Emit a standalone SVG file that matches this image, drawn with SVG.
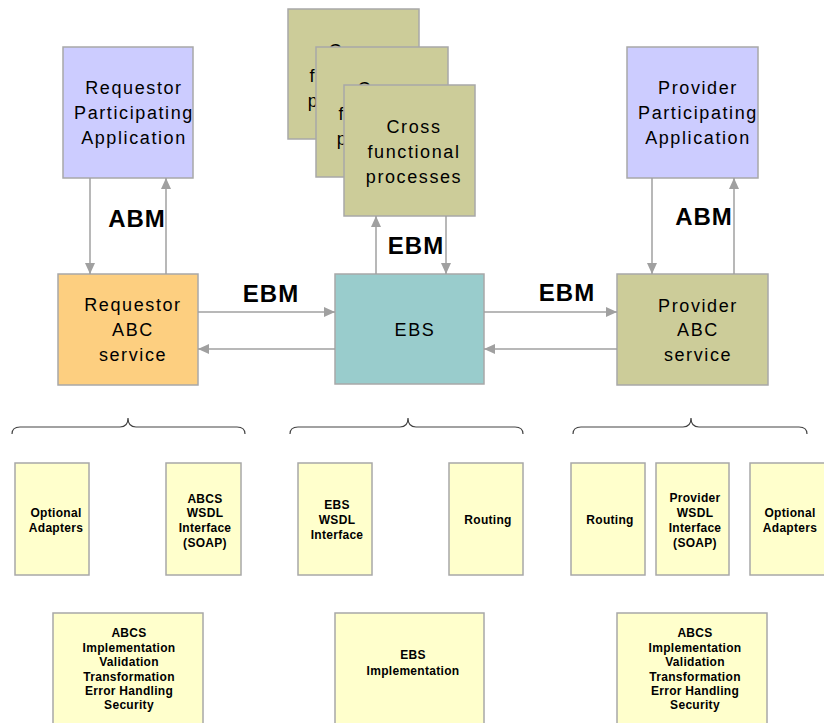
<svg xmlns="http://www.w3.org/2000/svg" width="824" height="723" viewBox="0 0 824 723">
<style>
.box{stroke:#A8A8A8;stroke-width:1.5}
.app{fill:#CCCCFF}
.req{fill:#FDCF80}
.ebs{fill:#99CCCC}
.olive{fill:#CCCC99}
.yel{fill:#FFFFCC}
.t{font-family:"Liberation Sans",Arial,sans-serif;font-size:18px;letter-spacing:1.6px;fill:#000;text-anchor:middle}
.lbl{font-family:"Liberation Sans",Arial,sans-serif;font-size:24px;font-weight:bold;letter-spacing:1px;fill:#000;text-anchor:middle}
.s{font-family:"Liberation Sans",Arial,sans-serif;font-size:12px;font-weight:bold;letter-spacing:0.3px;fill:#000;text-anchor:middle}
.c{stroke:#A0A0A0;stroke-width:1.5;fill:none;marker-end:url(#ah)}
.brace{stroke:#444;stroke-width:1.2;fill:none}
</style>
<defs>
<marker id="ah" markerUnits="userSpaceOnUse" markerWidth="12" markerHeight="12" refX="11" refY="5" orient="auto">
<path d="M0,0 L11,5 L0,10 z" fill="#A0A0A0"/>
</marker>
</defs>
<rect width="824" height="723" fill="#FFFFFF"/>

<g id="cross3">
<rect class="box olive" x="288" y="9" width="131" height="130"/>
<text class="t" x="356" y="57">Cross</text>
<text class="t" x="356" y="82">functional</text>
<text class="t" x="356" y="107">processes</text>
</g>
<g id="cross2">
<rect class="box olive" x="316" y="47" width="132" height="130"/>
<text class="t" x="385" y="95">Cross</text>
<text class="t" x="385" y="120">functional</text>
<text class="t" x="385" y="145">processes</text>
</g>
<g id="cross1">
<rect class="box olive" x="344" y="85" width="131" height="131"/>
<text class="t" x="414" y="133">Cross</text>
<text class="t" x="414" y="158">functional</text>
<text class="t" x="414" y="183">processes</text>
</g>

<g id="reqApp">
<rect class="box app" x="63" y="47" width="130" height="131"/>
<text class="t" x="134" y="94">Requestor</text>
<text class="t" x="134" y="119">Participating</text>
<text class="t" x="134" y="144">Application</text>
</g>
<g id="provApp">
<rect class="box app" x="627" y="47" width="131" height="131"/>
<text class="t" x="698" y="94">Provider</text>
<text class="t" x="698" y="119">Participating</text>
<text class="t" x="698" y="144">Application</text>
</g>
<g id="reqABC">
<rect class="box req" x="58" y="274" width="140" height="111"/>
<text class="t" x="133" y="311">Requestor</text>
<text class="t" x="133" y="336">ABC</text>
<text class="t" x="133" y="361">service</text>
</g>
<g id="ebs">
<rect class="box ebs" x="335" y="274" width="149" height="110"/>
<text class="t" x="415" y="336">EBS</text>
</g>
<g id="provABC">
<rect class="box olive" x="617" y="274" width="151" height="111"/>
<text class="t" x="698" y="312">Provider</text>
<text class="t" x="698" y="336">ABC</text>
<text class="t" x="698" y="361">service</text>
</g>

<g id="connectors">
<line class="c" x1="90" y1="178" x2="90" y2="274"/>
<line class="c" x1="166" y1="274" x2="166" y2="178"/>
<line class="c" x1="198" y1="312" x2="335" y2="312"/>
<line class="c" x1="335" y1="349" x2="198" y2="349"/>
<line class="c" x1="376" y1="274" x2="376" y2="216"/>
<line class="c" x1="446" y1="216" x2="446" y2="274"/>
<line class="c" x1="484" y1="312" x2="617" y2="312"/>
<line class="c" x1="617" y1="349" x2="484" y2="349"/>
<line class="c" x1="652" y1="178" x2="652" y2="274"/>
<line class="c" x1="734" y1="274" x2="734" y2="178"/>
<text class="lbl" x="137" y="227">ABM</text>
<text class="lbl" x="271" y="302">EBM</text>
<text class="lbl" x="416" y="254">EBM</text>
<text class="lbl" x="567" y="301">EBM</text>
<text class="lbl" x="704" y="225">ABM</text>
</g>

<g id="braces">
<path class="brace" d="M12,434 Q12,427 20,427 L120,427 Q128,427 128,418 Q128,427 136,427 L237,427 Q245,427 245,434"/>
<path class="brace" d="M290,434 Q290,427 298,427 L400,427 Q408,427 408,418 Q408,427 416,427 L515,427 Q523,427 523,434"/>
<path class="brace" d="M573,434 Q573,427 581,427 L683,427 Q691,427 691,418 Q691,427 699,427 L799,427 Q807,427 807,434"/>
</g>

<g id="optAdaptersL">
<rect class="box yel" x="15" y="463" width="74" height="112"/>
<text class="s" x="56" y="517">Optional</text>
<text class="s" x="56" y="532">Adapters</text>
</g>
<g id="abcsWsdlL">
<rect class="box yel" x="166" y="463" width="75" height="112"/>
<text class="s" x="205" y="503">ABCS</text>
<text class="s" x="205" y="517">WSDL</text>
<text class="s" x="205" y="532">Interface</text>
<text class="s" x="205" y="547">(SOAP)</text>
</g>
<g id="ebsWsdl">
<rect class="box yel" x="298" y="463" width="74" height="112"/>
<text class="s" x="337" y="509">EBS</text>
<text class="s" x="337" y="524">WSDL</text>
<text class="s" x="337" y="539">Interface</text>
</g>
<g id="routingM">
<rect class="box yel" x="449" y="463" width="74" height="112"/>
<text class="s" x="488" y="524">Routing</text>
</g>
<g id="routingR">
<rect class="box yel" x="571" y="463" width="74" height="112"/>
<text class="s" x="610" y="524">Routing</text>
</g>
<g id="provWsdl">
<rect class="box yel" x="656" y="463" width="73" height="112"/>
<text class="s" x="695" y="502">Provider</text>
<text class="s" x="695" y="517">WSDL</text>
<text class="s" x="695" y="532">Interface</text>
<text class="s" x="695" y="547">(SOAP)</text>
</g>
<g id="optAdaptersR">
<rect class="box yel" x="750" y="463" width="76" height="112"/>
<text class="s" x="790" y="517">Optional</text>
<text class="s" x="790" y="532">Adapters</text>
</g>

<g id="abcsImplL">
<rect class="box yel" x="53" y="613" width="150" height="120"/>
<text class="s" x="129" y="637">ABCS</text>
<text class="s" x="129" y="652">Implementation</text>
<text class="s" x="129" y="666">Validation</text>
<text class="s" x="129" y="681">Transformation</text>
<text class="s" x="129" y="695">Error Handling</text>
<text class="s" x="129" y="709">Security</text>
</g>
<g id="ebsImpl">
<rect class="box yel" x="335" y="613" width="149" height="120"/>
<text class="s" x="413" y="659">EBS</text>
<text class="s" x="413" y="675">Implementation</text>
</g>
<g id="abcsImplR">
<rect class="box yel" x="617" y="613" width="150" height="120"/>
<text class="s" x="695" y="637">ABCS</text>
<text class="s" x="695" y="652">Implementation</text>
<text class="s" x="695" y="666">Validation</text>
<text class="s" x="695" y="681">Transformation</text>
<text class="s" x="695" y="695">Error Handling</text>
<text class="s" x="695" y="709">Security</text>
</g>
</svg>
